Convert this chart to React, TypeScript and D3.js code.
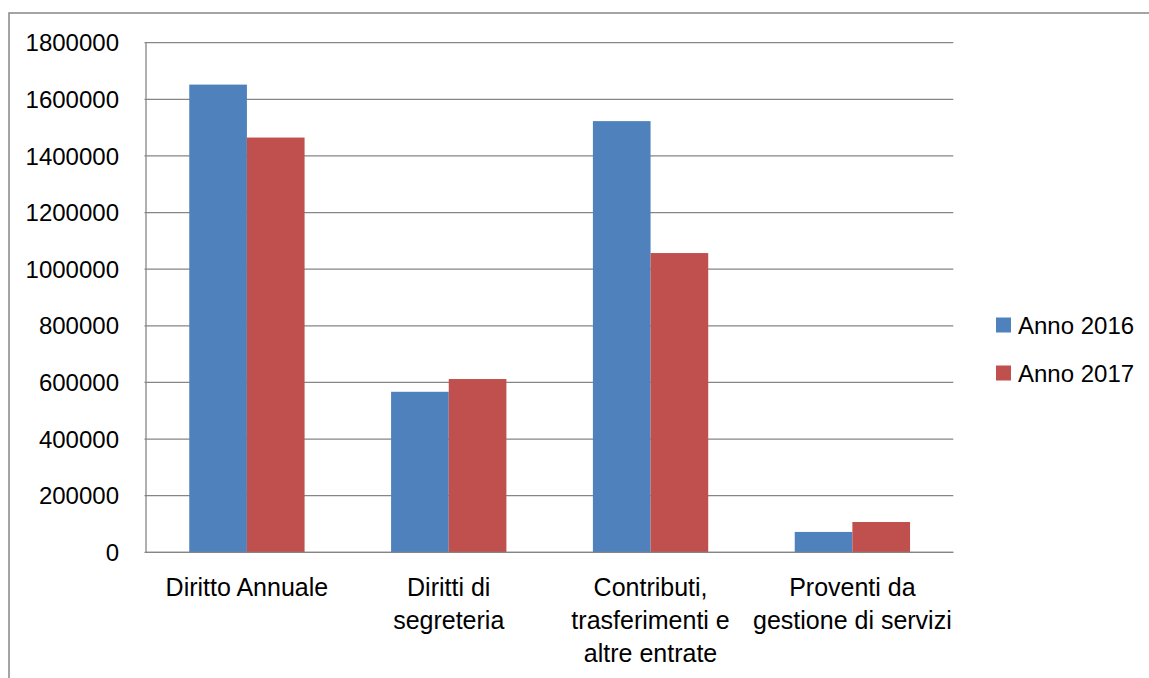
import React from "react";
import * as d3 from "d3";

const categories = [
  "Diritto Annuale",
  "Diritti di segreteria",
  "Contributi, trasferimenti e altre entrate",
  "Proventi da gestione di servizi",
];
const categoryLines = [
  ["Diritto Annuale"],
  ["Diritti di", "segreteria"],
  ["Contributi,", "trasferimenti e", "altre entrate"],
  ["Proventi da", "gestione di servizi"],
];
const seriesNames = ["Anno 2016", "Anno 2017"];
const values2016 = [1652000, 567000, 1523000, 72000];
const values2017 = [1465000, 612000, 1057000, 107000];
const yTicks = [0, 200000, 400000, 600000, 800000, 1000000, 1200000, 1400000, 1600000, 1800000];
const colors = ["#4F81BD", "#C0504D"];

const W = 1149;
const H = 678;
const FONT = "'Liberation Sans', Arial, sans-serif";

export default function App() {
  const plotLeft = 146;
  const plotRight = 953.3;
  const plotTop = 42.7;
  const plotBottom = 552.3;

  const y = d3.scaleLinear().domain([0, 1800000]).range([plotBottom, plotTop]);
  const x0 = d3.scaleBand<string>().domain(categories).range([plotLeft, plotRight]).paddingInner(0).paddingOuter(0);
  const x1 = d3
    .scaleBand<string>()
    .domain(seriesNames)
    .range([0, x0.bandwidth()])
    .paddingInner(0)
    .paddingOuter(0.75);
  const seriesValues = [values2016, values2017];
  const gridColor = "#868686";

  return (
    <svg width={W} height={H} style={{ position: "absolute", left: 0, top: 0, background: "#fff" }} fontFamily={FONT}>
      <rect x={0} y={0} width={W} height={H} fill="#fff" />
      <rect x={9} y={13} width={W + 20} height={H + 20} fill="none" stroke="#878787" strokeWidth={1.5} />
      {yTicks.map((t) => (
        <g key={t}>
          <line x1={plotLeft - 1.5} x2={plotRight} y1={y(t)} y2={y(t)} stroke={gridColor} strokeWidth={1.3} />
          <text x={119} y={y(t)} dy="0.36em" textAnchor="end" fontSize={24} fill="#000">
            {t}
          </text>
        </g>
      ))}
      <line x1={plotLeft} x2={plotLeft} y1={plotTop} y2={plotBottom} stroke={gridColor} strokeWidth={1.3} />
      {categories.map((c, ci) => (
        <g key={c}>
          {seriesNames.map((s, si) => {
            const v = seriesValues[si][ci];
            const bx = (x0(c) as number) + (x1(s) as number);
            return (
              <rect
                key={s}
                x={bx}
                y={y(v)}
                width={x1.bandwidth()}
                height={plotBottom - y(v)}
                fill={colors[si]}
              />
            );
          })}
        </g>
      ))}
      <line x1={plotLeft} x2={plotRight} y1={plotBottom} y2={plotBottom} stroke={gridColor} strokeWidth={1.3} />
      {categories.map((c, ci) => {
        const cx = (x0(c) as number) + x0.bandwidth() / 2;
        return (
          <text key={c} x={cx} y={596} textAnchor="middle" fontSize={25} fill="#000">
            {categoryLines[ci].map((l, li) => (
              <tspan key={li} x={cx} y={596 + li * 33}>
                {l}
              </tspan>
            ))}
          </text>
        );
      })}
      {seriesNames.map((s, si) => (
        <g key={s}>
          <rect x={996} y={317.5 + si * 48} width={15} height={15} fill={colors[si]} />
          <text x={1018} y={325 + si * 48} dy="0.36em" fontSize={24} fill="#000">
            {s}
          </text>
        </g>
      ))}
    </svg>
  );
}
